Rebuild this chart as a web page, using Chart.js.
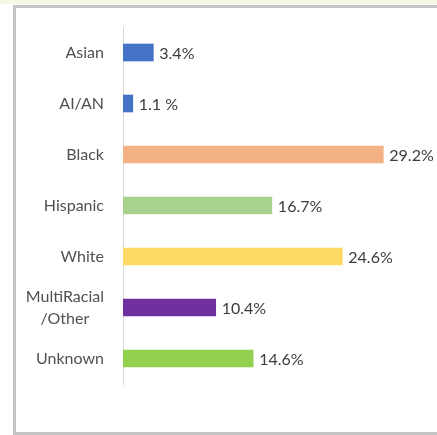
<!DOCTYPE html>
<html lang="en">
<head>
  <meta charset="UTF-8">
  <title>Race / Ethnicity</title>
  <style>
    html, body { margin: 0; padding: 0; background: #fff; }
    body { width: 437px; height: 435px; position: relative; overflow: hidden; }
    .strip { position: absolute; left: 0; top: 0; width: 437px; height: 4px; background: #f3f9e4; }
    .box { position: absolute; left: 13px; top: 5px; width: 440px; height: 424px; border: 3px solid #c4c4c4; background: #fff; }
    #chart { position: absolute; left: 0; top: 0; }
  </style>
  <script src="https://cdn.jsdelivr.net/npm/chart.js"></script>
</head>
<body>
  <div class="strip"></div>
  <div class="box"></div>
  <canvas id="chart" width="437" height="435"></canvas>
  <script>
    const categories = ['Asian', 'AI/AN', 'Black', 'Hispanic', 'White', ['MultiRacial', '/Other'], 'Unknown'];
    const percents = [3.4, 1.1, 29.2, 16.7, 24.6, 10.4, 14.6];
    const valueLabels = ['3.4%', '1.1 %', '29.2%', '16.7%', '24.6%', '10.4%', '14.6%'];
    const barColors = ['#4472c4', '#4472c4', '#f4b183', '#a9d18e', '#ffd966', '#7030a0', '#92d050'];

    const FONT = 'Lato, "Open Sans", sans-serif';

    // category labels: right edge fixed, multi-line labels centred on each other
    const catLabels = {
      id: 'catLabels',
      afterDraw(chart) {
        const ctx = chart.ctx;
        const y = chart.scales.y;
        ctx.save();
        ctx.font = '16px ' + FONT;
        ctx.fillStyle = '#505050';
        ctx.textAlign = 'center';
        ctx.textBaseline = 'middle';
        categories.forEach((lab, i) => {
          const lines = Array.isArray(lab) ? lab : [lab];
          const w = Math.max(...lines.map(l => ctx.measureText(l).width));
          const cx = 104 - w / 2;
          const cy = y.getPixelForValue(i);
          const lh = 22;
          lines.forEach((l, j) => {
            ctx.fillText(l, cx, cy + (j - (lines.length - 1) / 2) * lh);
          });
        });
        ctx.restore();
      }
    };

    const valLabels = {
      id: 'valLabels',
      afterDatasetsDraw(chart) {
        const ctx = chart.ctx;
        const meta = chart.getDatasetMeta(0);
        ctx.save();
        ctx.font = '16px ' + FONT;
        ctx.fillStyle = '#3c3c3c';
        ctx.textAlign = 'left';
        ctx.textBaseline = 'middle';
        meta.data.forEach((bar, i) => {
          ctx.fillText(valueLabels[i], bar.x + 6, bar.y + 1);
        });
        ctx.restore();
      }
    };

    new Chart(document.getElementById('chart'), {
      type: 'bar',
      data: {
        labels: categories,
        datasets: [{
          data: percents,
          backgroundColor: barColors,
          barThickness: 17
        }]
      },
      options: {
        indexAxis: 'y',
        responsive: false,
        animation: false,
        layout: { padding: { left: 123, right: 2, top: 27, bottom: 51 } },
        plugins: { legend: { display: false }, tooltip: { enabled: false } },
        scales: {
          x: { min: 0, max: 35, display: false },
          y: {
            grid: { display: false, drawTicks: false },
            border: { display: true, color: '#d9d9d9', width: 1 },
            ticks: { display: false },
            afterFit(scale) { scale.width = 0; }
          }
        }
      },
      plugins: [catLabels, valLabels]
    });
  </script>
</body>
</html>
